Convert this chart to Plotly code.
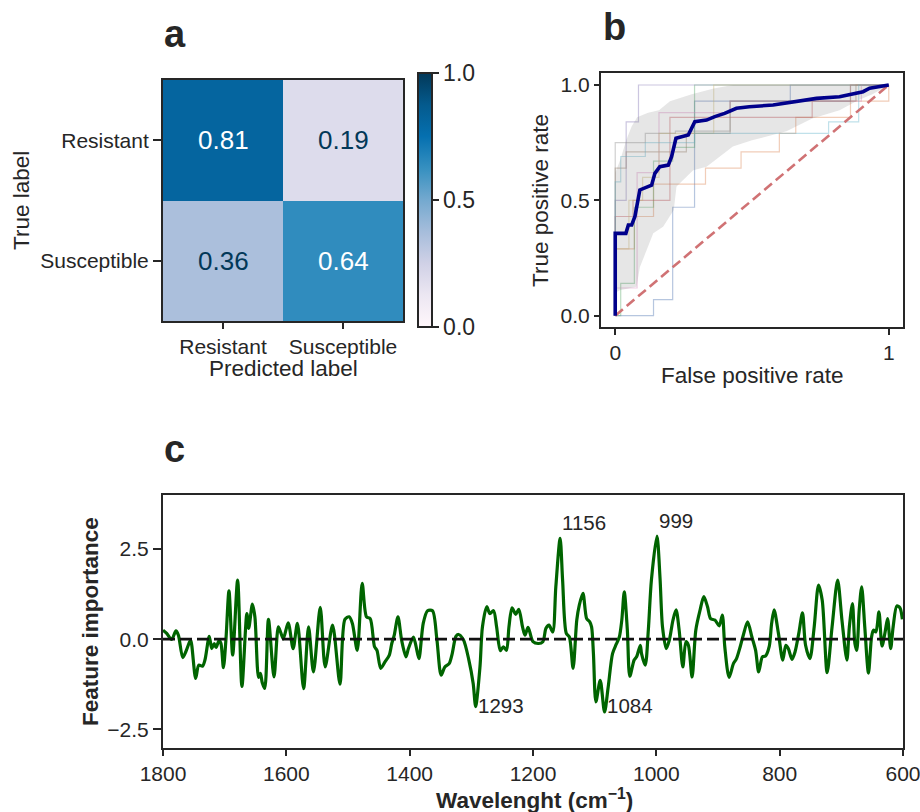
import plotly.graph_objects as go

# ---------------------------------------------------------------- data
# (a) normalised confusion matrix, rows = true label, columns = predicted
CLASS_LABELS = ["Resistant", "Susceptible"]
CONF_MATRIX = [[0.81, 0.19],
               [0.36, 0.64]]

# (b) per-fold ROC curves (step vertices)
FOLD_FPR = [
    [0, 0.14, 0.14, 0.21, 0.21, 0.29, 0.29, 0.64, 0.64, 1.0],
    [0, 0, 0.07, 0.07, 0.14, 0.14, 0.33, 0.33, 0.46, 0.46, 0.60, 0.60, 0.66, 0.66, 0.86, 0.86, 1.0, 1.0],
    [0, 0.02, 0.02, 0.07, 0.07, 0.14, 0.14, 0.21, 0.21, 0.29, 0.29, 1.0],
    [0, 0, 0.065, 0.065, 0.20, 0.20, 0.72, 0.72, 0.86, 0.86, 1.0],
    [0, 0, 0.04, 0.04, 0.085, 0.085, 1.0],
    [0, 0, 0.04, 0.04, 0.26, 0.26, 0.42, 0.42, 0.88, 0.88, 1.0],
    [0, 0, 0.08, 0.08, 0.16, 0.16, 0.42, 0.42, 0.90, 0.90, 1.0],
    [0, 0, 0.11, 0.11, 0.22, 0.22, 0.42, 0.42, 0.86, 0.86, 1.0],
    [0, 0, 0.05, 0.05, 0.10, 0.10, 0.16, 0.16, 0.36, 0.36, 1.0],
    [0, 0, 0.02, 0.02, 0.11, 0.11, 0.29, 0.29, 0.78, 0.78, 0.89, 0.89, 1.0],
]
FOLD_TPR = [
    [0, 0, 0.07, 0.07, 0.47, 0.47, 0.93, 0.93, 1.0, 1.0],
    [0, 0.29, 0.29, 0.43, 0.43, 0.57, 0.57, 0.64, 0.64, 0.71, 0.71, 0.79, 0.79, 0.86, 0.86, 0.93, 0.93, 1.0],
    [0, 0, 0.14, 0.14, 0.47, 0.47, 0.67, 0.67, 0.73, 0.73, 1.0, 1.0],
    [0, 0.43, 0.43, 0.50, 0.50, 0.86, 0.86, 0.93, 0.93, 1.0, 1.0],
    [0, 0.50, 0.50, 0.84, 0.84, 1.0, 1.0],
    [0, 0.64, 0.64, 0.71, 0.71, 0.79, 0.79, 0.93, 0.93, 1.0, 1.0],
    [0, 0.12, 0.12, 0.62, 0.62, 0.88, 0.88, 0.93, 0.93, 1.0, 1.0],
    [0, 0.75, 0.75, 0.79, 0.79, 0.80, 0.80, 0.93, 0.93, 1.0, 1.0],
    [0, 0.29, 0.29, 0.50, 0.50, 0.60, 0.60, 0.79, 0.79, 1.0, 1.0],
    [0, 0.58, 0.58, 0.69, 0.69, 0.75, 0.75, 0.79, 0.79, 0.84, 0.84, 1.0, 1.0],
]
FOLD_COLORS = ["#4c72b0", "#dd8452", "#55a868", "#c44e52", "#8172b3",
               "#937860", "#da8bc3", "#8c8c8c", "#ccb974", "#64b5cd"]

# mean ROC across folds
MEAN_FPR = [0, 0, 0.039, 0.048, 0.06, 0.072, 0.09, 0.11, 0.133, 0.145, 0.163, 0.194,
            0.206, 0.222, 0.267, 0.291, 0.334, 0.364, 0.40, 0.443, 0.49, 0.577,
            0.65, 0.736, 0.82, 0.87, 0.906, 0.93, 1.0]
MEAN_TPR = [0, 0.357, 0.357, 0.393, 0.393, 0.43, 0.545, 0.555, 0.566, 0.617, 0.646, 0.653,
            0.689, 0.769, 0.783, 0.841, 0.848, 0.863, 0.877, 0.899, 0.906, 0.913,
            0.928, 0.942, 0.949, 0.964, 0.971, 0.986, 1.0]

# +/- 1 std band around the mean ROC
BAND_UP_FPR = [0, 0.02, 0.04, 0.06, 0.08, 0.12, 0.16, 0.20, 0.28, 0.36, 0.43, 1.0]
BAND_UP_TPR = [0.62, 0.68, 0.76, 0.82, 0.86, 0.88, 0.89, 0.93, 0.96, 0.985, 1.0, 1.0]
BAND_LO_FPR = [0, 0.017, 0.078, 0.09, 0.139, 0.175, 0.214, 0.224, 0.285, 0.334,
               0.43, 0.50, 0.626, 0.72, 0.82, 0.89, 0.94, 1.0]
BAND_LO_TPR = [0.10, 0.11, 0.126, 0.21, 0.357, 0.386, 0.458, 0.56, 0.63, 0.646,
               0.733, 0.76, 0.80, 0.855, 0.89, 0.935, 0.96, 1.0]

# (c) feature importance along the spectrum
WAVENUMBER = [
    1800, 1794, 1786, 1779, 1775, 1768, 1763, 1757, 1755, 1747,
    1742, 1736, 1732, 1725, 1721, 1717, 1714, 1709, 1706, 1702,
    1698, 1693, 1687, 1679, 1672, 1664, 1661, 1655, 1651, 1645,
    1642, 1639, 1635, 1629, 1620, 1613, 1609, 1605, 1597, 1589,
    1582, 1572, 1564, 1556, 1545, 1537, 1525, 1513, 1505, 1498,
    1493, 1485, 1477, 1470, 1464, 1457, 1453, 1447, 1440, 1433,
    1429, 1425, 1419, 1413, 1406, 1402, 1394, 1390, 1385, 1378,
    1371, 1363, 1356, 1349, 1343, 1336, 1331, 1325, 1321, 1313,
    1304, 1297, 1293, 1286, 1282, 1275, 1270, 1264, 1259, 1253,
    1248, 1243, 1239, 1234, 1228, 1223, 1217, 1213, 1208, 1200,
    1191, 1184, 1179, 1174, 1168, 1163, 1156, 1152, 1146, 1141,
    1135, 1129, 1125, 1119, 1113, 1108, 1105, 1102, 1098, 1091,
    1084, 1078, 1071, 1065, 1060, 1056, 1052, 1047, 1043, 1036,
    1032, 1026, 1024, 1018, 1013, 1008, 999, 994, 990, 984,
    979, 973, 968, 963, 957, 952, 948, 942, 936, 929,
    923, 917, 912, 905, 898, 893, 889, 882, 875, 870,
    864, 859, 852, 845, 839, 834, 828, 823, 817, 813,
    809, 802, 795, 790, 786, 780, 775, 769, 763, 758,
    751, 744, 737, 731, 723, 715, 706, 699, 691, 687,
    682, 678, 675, 671, 667, 662, 656, 651, 648, 644,
    639, 634, 629, 625, 620, 616, 610, 605, 601,
]
IMPORTANCE = [
    0.25, 0.16, -0.01, 0.23, 0.11, -0.51, -0.35, -0.08, -0.03, -1.09,
    -0.72, -0.75, -0.58, 0.08, -0.26, -0.12, -0.23, -0.03, -0.12, -0.79,
    -0.03, 1.34, -0.44, 1.64, -1.31, 0.71, 0.30, 0.97, 0.62, -1.06,
    -0.95, -1.21, -1.37, 0.55, -1.05, 0.34, 0.18, 0.01, 0.45, -0.26,
    0.44, -1.37, 0.34, -0.91, 0.88, -0.77, 0.39, -1.25, 0.55, 0.62,
    0.44, -0.31, 1.55, 0.62, 0.57, -0.21, -0.31, -0.81, -0.63, -0.44,
    -0.12, 0.11, 0.62, -0.03, -0.49, -0.26, 0.06, -0.17, -0.54, 0.44,
    0.79, 0.79, 0.02, -1.00, -0.77, -0.68, -0.40, 0.08, 0.13, -0.01,
    -0.58, -1.23, -1.87, -0.77, 0.34, 0.90, 0.71, 0.79, 0.34, -0.32,
    -0.21, -0.31, 0.34, 0.87, 0.69, 0.83, 0.34, 0.11, 0.33, -0.07,
    -0.12, -0.07, 0.30, 0.39, 0.20, 1.45, 2.80, 1.64, 0.16, 0.06,
    -0.81, 0.53, 0.94, 1.27, 0.57, 0.48, 0.34, -0.40, -1.74, -1.14,
    -2.02, -1.32, -0.40, -0.14, 0.06, 0.53, 1.31, 0.25, -1.03, -0.58,
    -0.49, -0.17, -0.40, -0.72, 0.25, 1.64, 2.86, 1.69, 0.34, -0.26,
    -0.03, 0.53, 0.81, 0.25, -0.77, -0.07, -0.17, -1.05, 0.25, 0.81,
    1.18, 0.90, 0.57, 0.53, 0.37, 0.67, -0.21, -1.06, -0.68, -0.54,
    -0.21, 0.11, 0.48, 0.06, -0.31, -0.91, -0.49, -0.47, -0.21, 0.44,
    0.81, 0.16, -0.58, -0.17, -0.26, -0.56, -0.35, 0.16, 0.73, -0.17,
    -0.54, 0.34, 1.50, 1.08, -0.93, 0.34, 1.64, 0.53, -0.58, 0.34,
    0.99, -0.12, -0.31, 0.81, 1.45, 0.34, -0.94, 0.06, 0.25, 0.20,
    0.76, -0.19, 0.20, 0.57, -0.26, 0.34, 0.92, 0.87, 0.55,
]
assert len(WAVENUMBER) == len(IMPORTANCE)

# labelled extrema
PEAK_LABELS = [1156, 999]
TROUGH_LABELS = [1293, 1084]

# ---------------------------------------------------------------- style
W, H = 920, 812
FONT = "Liberation Sans, Arial, Helvetica, sans-serif"
INK = "#262626"
TICK_SIZE = 21
TITLE_SIZE = 22.5


def fx(px):
    return px / W


def fy(py):
    return 1 - py / H


def axis_style(**kw):
    base = dict(showgrid=False, zeroline=False, showline=True, mirror=True,
                linecolor=INK, linewidth=2, ticks="outside", ticklen=6,
                tickwidth=1.6, tickcolor=INK, automargin=False,
                tickfont=dict(family=FONT, size=TICK_SIZE, color=INK))
    base.update(kw)
    return base


fig = go.Figure()

# ---------------------------------------------------------------- (a)
fig.add_trace(go.Heatmap(
    z=CONF_MATRIX, x=CLASS_LABELS, y=CLASS_LABELS,
    colorscale="PuBu", zmin=0, zmax=1, xaxis="x", yaxis="y",
    hoverinfo="skip",
    colorbar=dict(
        x=fx(418), xanchor="left", xpad=0,
        y=fy(200), yanchor="middle", ypad=0,
        len=254 / H, lenmode="fraction",
        thickness=14, thicknessmode="pixels",
        outlinewidth=2, outlinecolor=INK,
        tickvals=[0, 0.5, 1], ticktext=["0.0", "0.5", "1.0"],
        ticks="outside", ticklen=6, tickwidth=1.6, tickcolor=INK,
        tickfont=dict(family=FONT, size=23, color=INK),
    ),
))

annotations = []
for i, row_label in enumerate(CLASS_LABELS):
    for j, col_label in enumerate(CLASS_LABELS):
        v = CONF_MATRIX[i][j]
        annotations.append(dict(
            x=col_label, y=row_label, xref="x", yref="y",
            text=f"{v:.2f}", showarrow=False,
            font=dict(family=FONT, size=26,
                      color="#ffffff" if v > 0.5 else "#023858"),
        ))

# ---------------------------------------------------------------- (b)
for fpr, tpr, col in zip(FOLD_FPR, FOLD_TPR, FOLD_COLORS):
    fig.add_trace(go.Scatter(
        x=fpr, y=tpr, mode="lines", xaxis="x2", yaxis="y2",
        line=dict(color=col, width=1.2), opacity=0.4,
        hoverinfo="skip", showlegend=False,
    ))

fig.add_trace(go.Scatter(
    x=[0, 1], y=[0, 1], mode="lines", xaxis="x2", yaxis="y2",
    line=dict(color="#d07274", width=2.6, dash="10px,5px"),
    hoverinfo="skip", showlegend=False,
))

fig.add_trace(go.Scatter(
    x=BAND_UP_FPR + BAND_LO_FPR[::-1],
    y=BAND_UP_TPR + BAND_LO_TPR[::-1],
    mode="lines", fill="toself", fillcolor="rgba(128,128,128,0.2)",
    line=dict(width=0), xaxis="x2", yaxis="y2",
    hoverinfo="skip", showlegend=False,
))

fig.add_trace(go.Scatter(
    x=MEAN_FPR, y=MEAN_TPR, mode="lines", xaxis="x2", yaxis="y2",
    line=dict(color="#00008b", width=3.6),
    hoverinfo="skip", showlegend=False,
))

# ---------------------------------------------------------------- (c)
fig.add_trace(go.Scatter(
    x=WAVENUMBER, y=IMPORTANCE, mode="lines", xaxis="x3", yaxis="y3",
    line=dict(color="#006400", width=3.2, shape="spline", smoothing=0.8),
    hoverinfo="skip", showlegend=False,
))

imp = dict(zip(WAVENUMBER, IMPORTANCE))
for wn in PEAK_LABELS:
    annotations.append(dict(
        x=wn, y=imp[wn], xref="x3", yref="y3", text=str(wn),
        showarrow=False, xanchor="left", yanchor="bottom", yshift=2,
        font=dict(family=FONT, size=20.5, color=INK),
    ))
for wn, shift in zip(TROUGH_LABELS, [1, 6]):
    annotations.append(dict(
        x=wn, y=imp[wn], xref="x3", yref="y3", text=str(wn),
        showarrow=False, xanchor="left", yanchor="middle", yshift=shift,
        font=dict(family=FONT, size=20.5, color=INK),
    ))

shapes = [dict(
    type="line", xref="x3 domain", yref="y3", x0=0, x1=1, y0=0, y1=0,
    line=dict(color="#111111", width=2.6, dash="12px,5px"), layer="above",
)]

# ---------------------------------------------------------------- text
def text(x, y, s, size, bold=False, angle=0, xanchor="center"):
    annotations.append(dict(
        x=fx(x), y=fy(y), xref="paper", yref="paper",
        text=f"<b>{s}</b>" if bold else s, showarrow=False,
        textangle=angle, xanchor=xanchor, yanchor="middle",
        font=dict(family=FONT, size=size, color=INK),
    ))


text(162, 34, "a", 38, bold=True, xanchor="left")
text(601, 27, "b", 38, bold=True, xanchor="left")
text(162, 449, "c", 38, bold=True, xanchor="left")

text(283, 368, "Predicted label", TITLE_SIZE)
text(22, 201, "True label", TITLE_SIZE, angle=-90)
text(752, 375, "False positive rate", TITLE_SIZE)
text(541, 201, "True positive rate", TITLE_SIZE, angle=-90)
text(90, 622, "Feature importance", TITLE_SIZE, bold=True, angle=-90)
text(534, 799, "Wavelenght (cm<sup>−1</sup>)", TITLE_SIZE, bold=True)

# ---------------------------------------------------------------- layout
fig.update_layout(
    width=W, height=H,
    margin=dict(l=0, r=0, t=0, b=0, pad=0, autoexpand=False),
    paper_bgcolor="white", plot_bgcolor="white", showlegend=False,
    font=dict(family=FONT, color=INK),
    xaxis=axis_style(domain=[fx(163), fx(403)], anchor="y"),
    yaxis=axis_style(domain=[fy(321), fy(80)], anchor="x",
                     autorange="reversed", ticklen=8),
    xaxis2=axis_style(domain=[fx(601), fx(903)], anchor="y2",
                      range=[-0.052, 1.052], tickvals=[0, 1], ticktext=["0", "1"]),
    yaxis2=axis_style(domain=[fy(327), fy(73)], anchor="x2",
                      range=[-0.049, 1.052], tickvals=[0, 0.5, 1], tickformat=".1f",
                      ticklen=5),
    xaxis3=axis_style(domain=[fx(163), fx(903)], anchor="y3",
                      range=[1800, 600], tickvals=[1800, 1600, 1400, 1200, 1000, 800, 600],
                      ticklabeloverflow="allow"),
    yaxis3=axis_style(domain=[fy(748), fy(495)], anchor="x3",
                      range=[-3.02, 4.0], tickvals=[-2.5, 0, 2.5], tickformat=".1f",
                      ticklen=8),
    annotations=annotations,
    shapes=shapes,
)

fig.write_html("out.html")
